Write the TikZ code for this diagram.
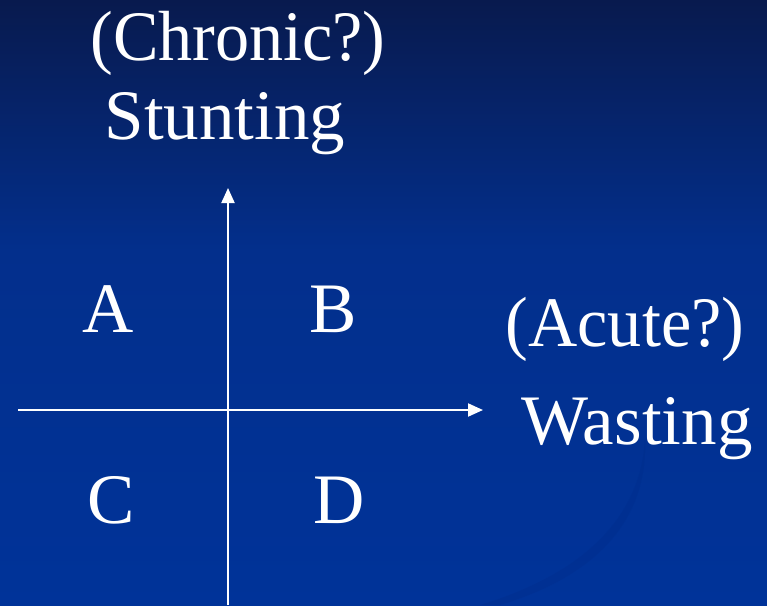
\documentclass[tikz,border=0pt]{standalone}
\usepackage{fontspec}
\setmainfont{Liberation Serif}
\usetikzlibrary{arrows.meta}
\definecolor{navytop}{RGB}{8,26,78}
\definecolor{navymid}{RGB}{3,47,140}
\definecolor{navybot}{RGB}{0,51,153}
\definecolor{swoosh}{RGB}{0,44,138}
\tikzset{
  axisline/.style={draw=white, line width=2pt, -{Triangle[length=15pt,width=13pt]}},
  label/.style={text=white, anchor=base, inner sep=0pt,
    font=\fontsize{71}{80}\selectfont},
  narrow/.style={xscale=0.96},
}
\begin{document}
\begin{tikzpicture}[x=1pt, y=-1pt]
  % slide background
  \useasboundingbox (0,0) rectangle (767,605);
  \shade[top color=navytop, bottom color=navymid] (0,0) rectangle (767,250);
  \shade[top color=navymid, bottom color=navybot] (0,249.5) rectangle (767,605);
  % faint swoosh in the lower right
  \fill[swoosh, opacity=0.35]
    (645,440) .. controls (640,520) and (580,575) .. (480,605)
    -- (500,605) .. controls (590,578) and (648,525) .. (645,440) -- cycle;

  % axis end points
  \coordinate (ybot) at (228,605);
  \coordinate (ytop) at (228,188);
  \coordinate (xleft) at (18,410);
  \coordinate (xright) at (483,410);

  \draw[axisline] (ybot) -- (ytop);
  \draw[axisline] (xleft) -- (xright);

  % axis titles
  \node[label, narrow] (chronic) at (238,60) {(Chronic?)};
  \node[label] (stunting) at (225,139) {Stunting};
  \node[label, narrow] (acute) at (625,346) {(Acute?)};
  \node[label] (wasting) at (637,444) {Wasting};

  % quadrant letters
  \node[label] (qa) at (108,332) {A};
  \node[label] (qb) at (333,332) {B};
  \node[label] (qc) at (111,523) {C};
  \node[label] (qd) at (339,523) {D};
\end{tikzpicture}
\end{document}
